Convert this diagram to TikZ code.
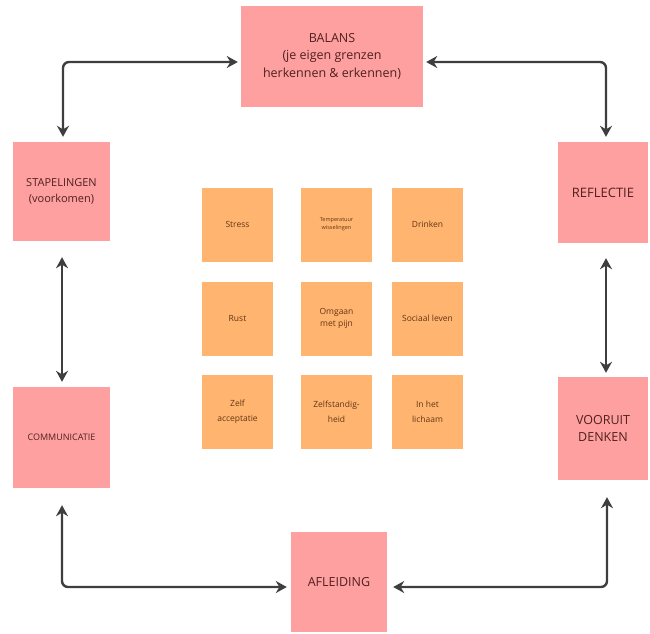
\documentclass[tikz,border=0pt]{standalone}
\usepackage{fontspec}
\setmainfont{Open Sans}
\usetikzlibrary{arrows.meta}
\definecolor{pinkbox}{RGB}{255,160,160}
\definecolor{orangebox}{RGB}{255,181,112}
\definecolor{pinktext}{RGB}{80,32,32}
\definecolor{orangetext}{RGB}{100,52,20}
\definecolor{arrowgray}{RGB}{62,62,62}
\begin{document}
\begin{tikzpicture}[x=1pt,y=-1pt,
  pinknote/.style={fill=pinkbox,draw=none,inner sep=0pt,align=center,text=pinktext,font=\fontsize{11}{16}\selectfont},
  orangenote/.style={fill=orangebox,draw=none,inner sep=0pt,minimum width=71pt,minimum height=74pt,align=center,text=orangetext,font=\fontsize{8.5}{12}\selectfont},
  arr/.style={draw=arrowgray,line width=2.4pt,rounded corners=6pt,{Stealth[length=11pt,width=12pt]}-{Stealth[length=11pt,width=12pt]}}
]
\useasboundingbox (0,0) rectangle (650,633);
% main boxes
\node[pinknote,minimum width=182pt,minimum height=101pt,font=\fontsize{12.5}{17.5}\selectfont] (bal) at (332,56) {BALANS\\(je eigen grenzen\\herkennen \& erkennen)};
\node[pinknote,minimum width=97pt,minimum height=99pt] (stap) at (61.5,191.5) {STAPELINGEN\\(voorkomen)};
\node[pinknote,minimum width=90pt,minimum height=101pt,font=\fontsize{13}{16}\selectfont] (refl) at (603,192.5) {REFLECTIE};
\node[pinknote,minimum width=97pt,minimum height=101pt,font=\fontsize{9}{14}\selectfont] (comm) at (61.5,437.5) {COMMUNICATIE};
\node[pinknote,minimum width=90pt,minimum height=103pt,font=\fontsize{12.5}{17}\selectfont] (voor) at (603,428.5) {VOORUIT\\DENKEN};
\node[pinknote,minimum width=96pt,minimum height=100pt,font=\fontsize{12.5}{16}\selectfont] (afl) at (339,582) {AFLEIDING};
% centre notes
\node[orangenote] (n11) at (237.5,224.5) {Stress};
\node[orangenote,font=\fontsize{5.5}{8}\selectfont] (n12) at (336.5,224.5) {Temperatuur\\wisselingen};
\node[orangenote] (n13) at (427.5,224.5) {Drinken};
\node[orangenote] (n21) at (237.5,318.5) {Rust};
\node[orangenote] (n22) at (336.5,318.5) {Omgaan\\met pijn};
\node[orangenote] (n23) at (427.5,318.5) {Sociaal leven};
\node[orangenote,font=\fontsize{8.5}{15}\selectfont] (n31) at (237.5,411.5) {Zelf\\acceptatie};
\node[orangenote,font=\fontsize{8.5}{15}\selectfont] (n32) at (336.5,411.5) {Zelfstandig-\\heid};
\node[orangenote,font=\fontsize{8.5}{15}\selectfont] (n33) at (427.5,411.5) {In het\\lichaam};
% connectors
\draw[arr,shorten <=3pt,shorten >=5pt] ([yshift=-6pt]bal.west) -| ([xshift=1.5pt]stap.north);
\draw[arr,shorten <=3pt,shorten >=5pt] ([yshift=-6pt]bal.east) -| ([xshift=3pt]refl.north);
\draw[arr,shorten <=16pt,shorten >=5pt] ([xshift=0.5pt]stap.south) -- ([xshift=0.5pt]comm.north);
\draw[arr,shorten <=15pt,shorten >=4pt] ([xshift=3pt]refl.south) -- ([xshift=3pt]voor.north);
\draw[arr,shorten <=17pt,shorten >=4pt] ([xshift=0.5pt]comm.south) |- ([yshift=-5pt]afl.west);
\draw[arr,shorten <=17pt,shorten >=6pt] ([xshift=4pt]voor.south) |- ([yshift=-5pt]afl.east);
\end{tikzpicture}
\end{document}
